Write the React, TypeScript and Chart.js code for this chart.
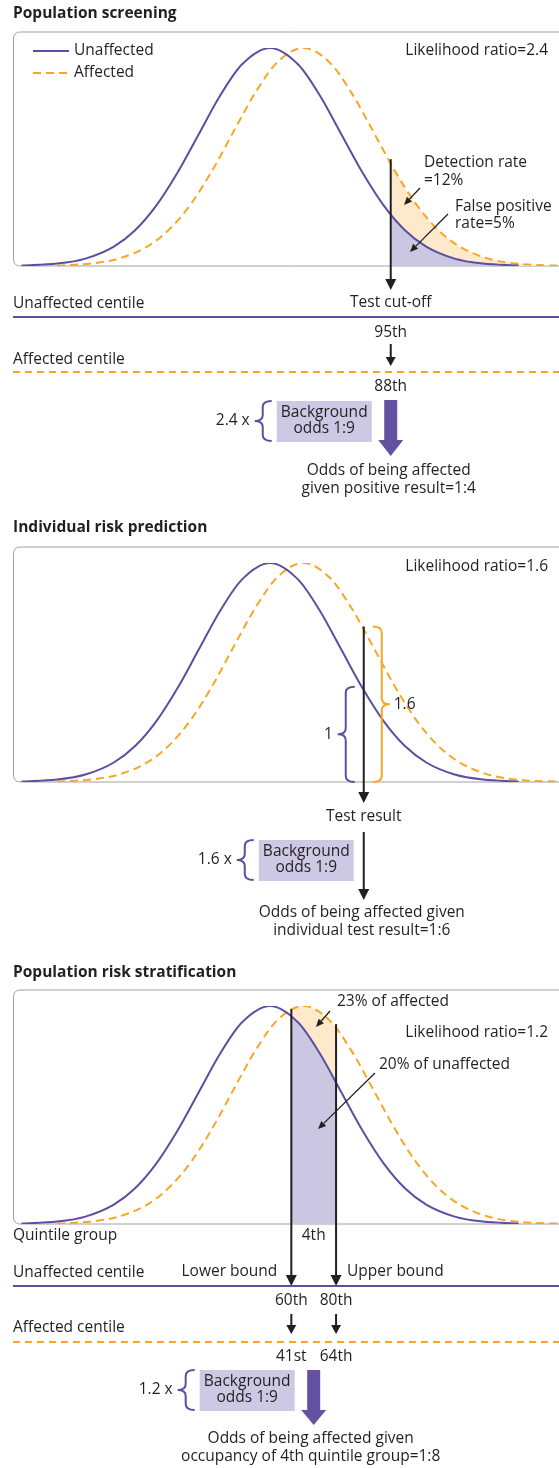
import React, { useEffect, useRef } from "react";
import { Chart, registerables } from "chart.js";

Chart.register(...registerables);

// ---------- data ----------
// Test score in units of the unaffected SD (unaffected mean = 0); density relative to the peak
const unaffectedScore = [-3.5, -3.0, -2.6, -2.2, -1.9, -1.6, -1.3, -1.0, -0.7, -0.4, 0, 0.4, 0.7, 1.0, 1.3, 1.6, 1.9, 2.2, 2.6, 3.0, 3.5];
const unaffectedDensity = [0.002, 0.011, 0.034, 0.089, 0.164, 0.278, 0.43, 0.607, 0.783, 0.923, 1.0, 0.923, 0.783, 0.607, 0.43, 0.278, 0.164, 0.089, 0.034, 0.011, 0.002];
const affectedScore = [-3.0, -2.5, -2.1, -1.7, -1.4, -1.1, -0.8, -0.5, -0.2, 0.1, 0.47, 0.85, 1.15, 1.45, 1.75, 2.05, 2.35, 2.65, 3.05, 3.5, 4.1];
const affectedDensity = [0.002, 0.012, 0.037, 0.095, 0.174, 0.291, 0.446, 0.625, 0.799, 0.934, 1.0, 0.93, 0.793, 0.619, 0.441, 0.287, 0.171, 0.093, 0.036, 0.01, 0.001];
const seriesLabels = ["Unaffected", "Affected"];
const scoreRange = [-3.62, 4.07];

const panelTitles = ["Population screening", "Individual risk prediction", "Population risk stratification"];
const likelihoodRatios = ["2.4", "1.6", "1.2"];
const backgroundOdds = "1:9";

// Population screening
const screeningCutoff = 1.7;
const screeningCutoffTop = 0.49;
const screeningRates = ["12%", "5%"]; // detection rate, false positive rate
const screeningCentiles = ["95th", "88th"]; // unaffected, affected
const screeningOdds = "1:4";

// Individual risk prediction
const individualResult = 1.32;
const individualDensities = [0.435, 0.71]; // unaffected, affected at the test result
const individualOdds = "1:6";

// Population risk stratification
const quintileBounds = [0.3, 0.93];
const quintileTops = [0.986, 0.917];
const quintileUnaffectedCentiles = ["60th", "80th"];
const quintileAffectedCentiles = ["41st", "64th"];
const quintileShares = ["23%", "20%"]; // of affected, of unaffected
const quintileGroup = "4th";
const quintileOdds = "1:8";

// ---------- styles ----------
const TEXT = "#231f20";
const PURPLE = "#5e4ea0";
const ORANGE = "#f8a724";
const ORANGE_FILL = "#feeacb";
const PURPLE_FILL = "#cbc7e2";
const BOX_FILL = "#cdc9e4";
const ARROW_PURPLE = "#6551a2";
const BORDER = "#a2a2a2";
const FONT = '"Open Sans", "Noto Sans", sans-serif';
const W = 559;

function text(ctx: CanvasRenderingContext2D, s: string, x: number, y: number, align: CanvasTextAlign = "left", bold = false) {
  ctx.font = `${bold ? "bold " : ""}15.5px ${FONT}`;
  ctx.fillStyle = TEXT;
  ctx.textAlign = align;
  ctx.textBaseline = "middle";
  ctx.fillText(s, x, y);
}

function arrow(ctx: CanvasRenderingContext2D, x1: number, y1: number, x2: number, y2: number, lw: number, headLen: number, headW: number, color = TEXT) {
  const ang = Math.atan2(y2 - y1, x2 - x1);
  const bx = x2 - headLen * Math.cos(ang);
  const by = y2 - headLen * Math.sin(ang);
  ctx.save();
  ctx.setLineDash([]);
  ctx.strokeStyle = color;
  ctx.lineWidth = lw;
  ctx.beginPath();
  ctx.moveTo(x1, y1);
  ctx.lineTo(bx, by);
  ctx.stroke();
  ctx.fillStyle = color;
  ctx.beginPath();
  ctx.moveTo(x2, y2);
  ctx.lineTo(bx + (headW / 2) * Math.sin(ang), by - (headW / 2) * Math.cos(ang));
  ctx.lineTo(bx - (headW / 2) * Math.sin(ang), by + (headW / 2) * Math.cos(ang));
  ctx.closePath();
  ctx.fill();
  ctx.restore();
}

function brace(ctx: CanvasRenderingContext2D, xt: number, yTop: number, yBot: number, dir: number, color: string) {
  const xs = xt + dir * 9;
  const xc = xt + dir * 17;
  const ym = (yTop + yBot) / 2;
  const r = 6;
  ctx.save();
  ctx.setLineDash([]);
  ctx.strokeStyle = color;
  ctx.lineWidth = 2;
  ctx.beginPath();
  ctx.moveTo(xt, yTop);
  ctx.quadraticCurveTo(xs, yTop, xs, yTop + r);
  ctx.lineTo(xs, ym - r);
  ctx.quadraticCurveTo(xs, ym, xc, ym);
  ctx.quadraticCurveTo(xs, ym, xs, ym + r);
  ctx.lineTo(xs, yBot - r);
  ctx.quadraticCurveTo(xs, yBot, xt, yBot);
  ctx.stroke();
  ctx.restore();
}

function hline(ctx: CanvasRenderingContext2D, y: number, color: string, dashed: boolean) {
  ctx.save();
  ctx.strokeStyle = color;
  ctx.lineWidth = 2;
  ctx.setLineDash(dashed ? [7, 5] : []);
  ctx.beginPath();
  ctx.moveTo(13, y);
  ctx.lineTo(W, y);
  ctx.stroke();
  ctx.restore();
}

function backgroundBox(ctx: CanvasRenderingContext2D, right: number, top: number, lr: string) {
  const w = 95, h = 41;
  const left = right - w;
  ctx.fillStyle = BOX_FILL;
  ctx.fillRect(left, top, w, h);
  text(ctx, "Background", left + w / 2, top + 12, "center");
  text(ctx, `odds ${backgroundOdds}`, left + w / 2, top + 28, "center");
  brace(ctx, left - 5, top, top + 40, -1, PURPLE);
  text(ctx, `${lr} x`, left - 27, top + 20, "right");
}

function thickArrow(ctx: CanvasRenderingContext2D, x: number, y1: number, y2: number, tip: number) {
  ctx.fillStyle = ARROW_PURPLE;
  ctx.fillRect(x - 6.5, y1, 13, y2 - y1);
  ctx.beginPath();
  ctx.moveTo(x - 12.5, y2);
  ctx.lineTo(x + 12.5, y2);
  ctx.lineTo(x, tip);
  ctx.closePath();
  ctx.fill();
}

function roundedBox(ctx: CanvasRenderingContext2D, top: number, bottom: number) {
  const l = 13.5, r = W + 20, rad = 7;
  ctx.save();
  ctx.strokeStyle = BORDER;
  ctx.lineWidth = 1;
  ctx.setLineDash([]);
  ctx.beginPath();
  ctx.moveTo(r, top);
  ctx.lineTo(l + rad, top);
  ctx.quadraticCurveTo(l, top, l, top + rad);
  ctx.lineTo(l, bottom - rad);
  ctx.quadraticCurveTo(l, bottom, l + rad, bottom);
  ctx.lineTo(r, bottom);
  ctx.stroke();
  ctx.restore();
}

// fill under a dataset's drawn curve between two scores (local canvas coordinates)
function shade(chart: any, dsIndex: number, from: number, to: number, color: string) {
  const { ctx, chartArea, scales } = chart;
  const x1 = scales.x.getPixelForValue(from);
  const x2 = scales.x.getPixelForValue(to);
  const meta = chart.getDatasetMeta(dsIndex);
  const line = meta.dataset;
  const pts = meta.data;
  ctx.save();
  ctx.beginPath();
  ctx.rect(x1, chartArea.top - 5, x2 - x1, chartArea.bottom - chartArea.top + 5);
  ctx.clip();
  ctx.beginPath();
  if (line && typeof line.path === "function") {
    if (typeof line.updateControlPoints === "function") line.updateControlPoints(chartArea, "x");
    line.path(ctx);
  } else {
    pts.forEach((p: any, i: number) => (i ? ctx.lineTo(p.x, p.y) : ctx.moveTo(p.x, p.y)));
  }
  ctx.lineTo(pts[pts.length - 1].x, chartArea.bottom);
  ctx.lineTo(pts[0].x, chartArea.bottom);
  ctx.closePath();
  ctx.fillStyle = color;
  ctx.fill();
  ctx.restore();
}

type Helpers = { X: (v: number) => number; Y: (v: number) => number };
type PanelDef = {
  shades: [number, number][]; // score ranges to shade
  draw: (chart: any, ctx: CanvasRenderingContext2D, h: Helpers) => void;
};

const screeningPanel: PanelDef = {
  shades: [[screeningCutoff, scoreRange[1]]],
  draw: (chart, ctx, { X, Y }) => {
    const cx = X(screeningCutoff);
    text(ctx, panelTitles[0], 13, 14, "left", true);
    chart.data.datasets.forEach((d: any, i: number) => {
      const y = 51 + i * 22;
      ctx.save();
      ctx.strokeStyle = d.borderColor;
      ctx.lineWidth = 2;
      ctx.setLineDash(d.borderDash || []);
      ctx.beginPath();
      ctx.moveTo(33, y);
      ctx.lineTo(69, y);
      ctx.stroke();
      ctx.restore();
      text(ctx, d.label, 74, y);
    });
    text(ctx, `Likelihood ratio=${likelihoodRatios[0]}`, 548, 51, "right");
    arrow(ctx, cx, Y(screeningCutoffTop), cx, 290, 2, 11, 11);
    text(ctx, "Detection rate", 424, 163);
    text(ctx, `=${screeningRates[0]}`, 424, 181);
    arrow(ctx, 420, 188, 404, 205, 1.3, 8, 7);
    text(ctx, "False positive", 455, 207);
    text(ctx, `rate=${screeningRates[1]}`, 455, 224);
    arrow(ctx, 448, 214, 410, 252, 1.3, 8, 7);
    text(ctx, "Unaffected centile", 13, 304);
    text(ctx, "Test cut-off", cx, 303, "center");
    hline(ctx, 317, PURPLE, false);
    text(ctx, screeningCentiles[0], cx, 333, "center");
    arrow(ctx, cx, 344, cx, 366, 2, 9, 10);
    text(ctx, "Affected centile", 13, 360);
    hline(ctx, 372, ORANGE, true);
    text(ctx, screeningCentiles[1], cx, 387, "center");
    backgroundBox(ctx, cx - 19, 401, likelihoodRatios[0]);
    thickArrow(ctx, cx, 400, 440, 456);
    text(ctx, "Odds of being affected", cx - 2, 471, "center");
    text(ctx, `given positive result=${screeningOdds}`, cx - 2, 489, "center");
  },
};

const individualPanel: PanelDef = {
  shades: [],
  draw: (chart, ctx, { X, Y }) => {
    const cx = X(individualResult);
    text(ctx, panelTitles[1], 13, 528, "left", true);
    text(ctx, `Likelihood ratio=${likelihoodRatios[1]}`, 548, 567, "right");
    const yU = Y(individualDensities[0]);
    const yA = Y(individualDensities[1]);
    const y0 = Y(0);
    brace(ctx, cx - 9, yU, y0, -1, PURPLE);
    text(ctx, "1", cx - 31, (yU + y0) / 2, "right");
    brace(ctx, cx + 9, yA, y0, 1, ORANGE);
    text(ctx, likelihoodRatios[1], cx + 30, (yA + y0) / 2);
    arrow(ctx, cx, yA, cx, 803, 2, 11, 11);
    text(ctx, "Test result", cx, 817, "center");
    arrow(ctx, cx, 832, cx, 900, 2, 11, 11);
    backgroundBox(ctx, cx - 10, 840, likelihoodRatios[1]);
    text(ctx, "Odds of being affected given", cx - 2, 913, "center");
    text(ctx, `individual test result=${individualOdds}`, cx - 2, 931, "center");
  },
};

const stratificationPanel: PanelDef = {
  shades: [[quintileBounds[0], quintileBounds[1]]],
  draw: (chart, ctx, { X, Y }) => {
    const lx = X(quintileBounds[0]);
    const ux = X(quintileBounds[1]);
    const mx = (lx + ux) / 2;
    text(ctx, panelTitles[2], 13, 973, "left", true);
    arrow(ctx, lx, Y(quintileTops[0]), lx, 1286, 2, 11, 11);
    arrow(ctx, ux, Y(quintileTops[1]), ux, 1286, 2, 11, 11);
    text(ctx, `${quintileShares[0]} of affected`, 337, 1002);
    arrow(ctx, 330, 1011, 316, 1027, 1.3, 8, 7);
    text(ctx, `Likelihood ratio=${likelihoodRatios[2]}`, 548, 1033, "right");
    text(ctx, `${quintileShares[1]} of unaffected`, 379, 1065);
    arrow(ctx, 375, 1073, 318, 1129, 1.3, 8, 7);
    text(ctx, "Quintile group", 13, 1236);
    text(ctx, quintileGroup, mx, 1236, "center");
    text(ctx, "Unaffected centile", 13, 1273);
    text(ctx, "Lower bound", lx - 14, 1272, "right");
    text(ctx, "Upper bound", ux + 11, 1272);
    hline(ctx, 1286, PURPLE, false);
    text(ctx, quintileUnaffectedCentiles[0], lx, 1301, "center");
    text(ctx, quintileUnaffectedCentiles[1], ux, 1301, "center");
    arrow(ctx, lx, 1314, lx, 1334, 2, 9, 10);
    arrow(ctx, ux, 1314, ux, 1334, 2, 9, 10);
    text(ctx, "Affected centile", 13, 1328);
    hline(ctx, 1342, ORANGE, true);
    text(ctx, quintileAffectedCentiles[0], lx, 1357, "center");
    text(ctx, quintileAffectedCentiles[1], ux, 1357, "center");
    backgroundBox(ctx, mx - 19, 1370, likelihoodRatios[2]);
    thickArrow(ctx, mx, 1370, 1410, 1425);
    text(ctx, "Odds of being affected given", mx - 3, 1439, "center");
    text(ctx, `occupancy of 4th quintile group=${quintileOdds}`, mx - 3, 1457, "center");
  },
};

function Panel({ top, height, plotTop, plotBottom, def }: { top: number; height: number; plotTop: number; plotBottom: number; def: PanelDef }) {
  const ref = useRef<HTMLCanvasElement>(null);
  useEffect(() => {
    if (!ref.current) return;
    const helpers = (chart: any): Helpers => ({
      X: (v: number) => chart.scales.x.getPixelForValue(v),
      Y: (v: number) => chart.scales.y.getPixelForValue(v) + top,
    });
    const plugin = {
      id: "panelAnnotations",
      beforeDatasetsDraw(chart: any) {
        const c = chart.ctx;
        const { Y } = helpers(chart);
        c.save();
        c.translate(0, -top);
        roundedBox(c, Y(1) - 16, Y(0));
        c.restore();
        def.shades.forEach(([a, b]) => {
          shade(chart, 1, a, b, ORANGE_FILL);
          shade(chart, 0, a, b, PURPLE_FILL);
        });
      },
      afterDatasetsDraw(chart: any) {
        const c = chart.ctx;
        c.save();
        c.translate(0, -top);
        def.draw(chart, c, helpers(chart));
        c.restore();
      },
    };
    const chart = new Chart(ref.current, {
      type: "line",
      data: {
        datasets: [
          {
            label: seriesLabels[0],
            data: unaffectedScore.map((x, i) => ({ x, y: unaffectedDensity[i] })),
            borderColor: PURPLE,
            borderWidth: 2,
            pointRadius: 0,
            cubicInterpolationMode: "monotone",
            fill: false,
          },
          {
            label: seriesLabels[1],
            data: affectedScore.map((x, i) => ({ x, y: affectedDensity[i] })),
            borderColor: ORANGE,
            borderWidth: 2,
            borderDash: [8, 5],
            pointRadius: 0,
            cubicInterpolationMode: "monotone",
            fill: false,
          },
        ],
      },
      options: {
        animation: false,
        responsive: false,
        devicePixelRatio: 1,
        events: [],
        layout: { padding: { left: 13, right: 0, top: plotTop - top, bottom: top + height - plotBottom } },
        plugins: { legend: { display: false }, tooltip: { enabled: false } },
        scales: {
          x: { type: "linear", min: scoreRange[0], max: scoreRange[1], display: false },
          y: { type: "linear", min: 0, max: 1, display: false },
        },
      },
      plugins: [plugin],
    } as any);
    return () => chart.destroy();
  }, []);
  return <canvas ref={ref} width={W} height={height} style={{ position: "absolute", left: 0, top, width: W, height, display: "block" }} />;
}

export default function App() {
  return (
    <div style={{ position: "absolute", left: 0, top: 0, width: W, height: 1468, overflow: "hidden", background: "#fff" }}>
      <Panel top={0} height={500} plotTop={48} plotBottom={266} def={screeningPanel} />
      <Panel top={500} height={450} plotTop={563} plotBottom={782} def={individualPanel} />
      <Panel top={950} height={518} plotTop={1006} plotBottom={1224} def={stratificationPanel} />
    </div>
  );
}
